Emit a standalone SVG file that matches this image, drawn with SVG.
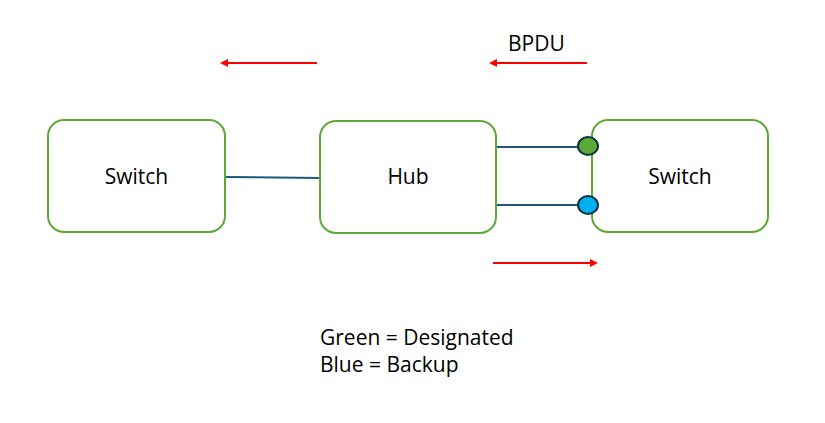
<svg xmlns="http://www.w3.org/2000/svg" width="825" height="423" viewBox="0 0 825 423">
<style>
.box{fill:#fff;stroke:#5aaa35;stroke-width:2}
.lbl{font-family:"Open Sans","Liberation Sans",Arial,sans-serif;font-size:21px;fill:#000}
.link{stroke:#1b5a7a;stroke-width:2;fill:none}
.bpdu{stroke:#f00;stroke-width:2;fill:none}
.port{stroke:#12303f;stroke-width:2}
</style>
<defs>
<marker id="ah" markerWidth="8" markerHeight="8" refX="6" refY="4" orient="auto" markerUnits="userSpaceOnUse">
<path d="M0,0 L8,4 L0,8 Z" fill="#f00"/>
</marker>
</defs>
<rect width="825" height="423" fill="#fff"/>
<g id="connectors">
<line class="link" x1="225" y1="177" x2="320" y2="178"/>
<line class="link" x1="496" y1="147" x2="580" y2="147"/>
<line class="link" x1="496" y1="205" x2="580" y2="205"/>
<line class="bpdu" x1="317" y1="63" x2="222" y2="63" marker-end="url(#ah)"/>
<line class="bpdu" x1="587" y1="63" x2="491" y2="63" marker-end="url(#ah)"/>
<line class="bpdu" x1="493" y1="263" x2="596" y2="263" marker-end="url(#ah)"/>
</g>
<g id="switch-left">
<rect class="box" x="48" y="120" width="177" height="112" rx="16"/>
<text class="lbl" x="136.5" y="184" text-anchor="middle">Switch</text>
</g>
<g id="hub">
<rect class="box" x="320" y="121" width="176" height="112" rx="16"/>
<text class="lbl" x="408" y="184" text-anchor="middle">Hub</text>
</g>
<g id="switch-right">
<rect class="box" x="592" y="120" width="176" height="112" rx="16"/>
<text class="lbl" x="680" y="184" text-anchor="middle">Switch</text>
</g>
<g id="port-designated">
<ellipse class="port" cx="588" cy="146" rx="10" ry="9" fill="#5aaa35"/>
</g>
<g id="port-backup">
<ellipse class="port" cx="588" cy="205" rx="10" ry="9" fill="#00b0f0"/>
</g>
<g id="labels">
<text class="lbl" x="508" y="51">BPDU</text>
<text class="lbl" x="320" y="345">Green = Designated</text>
<text class="lbl" x="320" y="372">Blue = Backup</text>
</g>
</svg>
